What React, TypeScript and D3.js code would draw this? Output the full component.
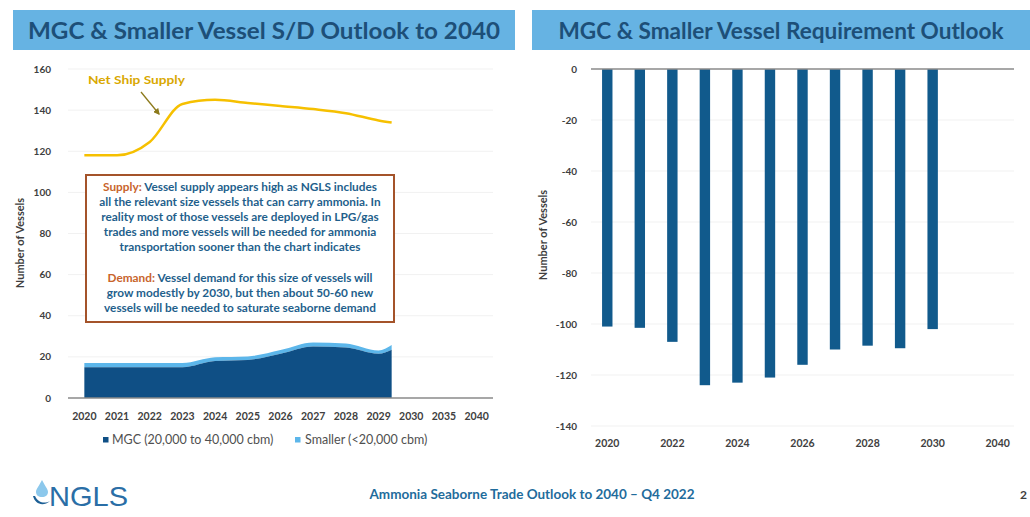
import * as d3 from "d3";

const xLabels = ["2020", "2021", "2022", "2023", "2024", "2025", "2026", "2027", "2028", "2029", "2030", "2035", "2040"];

// left chart series (last point sits a bit past 2029 in the source)
const areaYears = [2020, 2021, 2022, 2023, 2024, 2025, 2026, 2027, 2028, 2029, 2029.4];
const netSupply = [118, 118, 124.5, 143, 145, 143.5, 142, 140.5, 138.5, 135, 134];
const mgcDemand = [15, 15, 15, 15, 18, 18.5, 21.5, 25, 24.5, 21.5, 23.5];
const smallerDemand = [2, 2, 2, 2, 1.8, 1.7, 1.8, 2, 2, 1.6, 2.3];

// right chart series
const reqYears = ["2020", "2021", "2022", "2023", "2024", "2025", "2026", "2027", "2028", "2029", "2030"];
const requirement = [-101, -101.5, -107, -124, -123, -121, -116, -110, -108.5, -109.5, -102];

const leftTicks = [0, 20, 40, 60, 80, 100, 120, 140, 160];
const rightTicks = [0, -20, -40, -60, -80, -100, -120, -140];

const supplyNote = [
  "Vessel supply appears high as NGLS includes",
  "all the relevant size vessels that can carry ammonia. In",
  "reality most of those vessels are deployed in LPG/gas",
  "trades and more vessels will  be needed for ammonia",
  "transportation sooner than the chart indicates",
];
const demandNote = [
  "Vessel demand for this size of vessels will",
  "grow modestly by 2030,  but then about 50-60 new",
  "vessels will  be needed to saturate seaborne demand",
];

const FONT = "Lato, 'Open Sans', sans-serif";
const NAVY = "#1d4f78";
const DARK = "#0f4f85";
const LIGHT = "#5cb6ea";
const TICK = "#404040";

function Header({ x, w, title, len }: { x: number; w: number; title: string; len: number }) {
  return (
    <g>
      <rect x={x} y={10} width={w} height={40} fill="#66b3e3" />
      <text
        x={x + w / 2}
        y={38.5}
        textAnchor="middle"
        fontSize={22}
        fontWeight="bold"
        fill={NAVY}
        fontFamily={FONT}
        textLength={len}
        lengthAdjust="spacingAndGlyphs"
      >
        {title}
      </text>
    </g>
  );
}

function LeftChart() {
  const x = d3.scaleBand().domain(xLabels).range([68, 493]);
  const cx = (l: string) => (x(l) || 0) + x.bandwidth() / 2;
  const xy = d3.scaleLinear().domain([2020, 2029]).range([cx("2020"), cx("2029")]);
  const y = d3.scaleLinear().domain([0, 160]).range([398, 69]);

  const idx = areaYears.map((_, i) => i);
  const darkArea = d3
    .area<number>()
    .x((i) => xy(areaYears[i]))
    .y0(y(0))
    .y1((i) => y(mgcDemand[i]))
    .curve(d3.curveMonotoneX);
  const lightArea = d3
    .area<number>()
    .x((i) => xy(areaYears[i]))
    .y0((i) => y(mgcDemand[i]))
    .y1((i) => y(mgcDemand[i] + smallerDemand[i]))
    .curve(d3.curveMonotoneX);
  const supplyLine = d3
    .line<number>()
    .x((i) => xy(areaYears[i]))
    .y((i) => y(netSupply[i]))
    .curve(d3.curveMonotoneX);

  return (
    <g fontFamily={FONT}>
      {leftTicks.map((t) => (
        <g key={t}>
          {t > 0 && <line x1={68} x2={493} y1={y(t)} y2={y(t)} stroke="#f1f1f1" strokeWidth={1} />}
          <text x={51} y={y(t) + 3.5} textAnchor="end" fontSize={10} fontWeight="bold" fill={TICK}>
            {t}
          </text>
        </g>
      ))}
      <text transform="translate(24,243) rotate(-90)" textAnchor="middle" fontSize={11} fontWeight="bold" fill={TICK}>
        Number of Vessels
      </text>
      <path d={lightArea(idx) || undefined} fill={LIGHT} />
      <path d={darkArea(idx) || undefined} fill={DARK} />
      <line x1={68} x2={493} y1={y(0)} y2={y(0)} stroke="#8a8a8a" strokeWidth={1.5} />
      <path d={supplyLine(idx) || undefined} fill="none" stroke="#f6c000" strokeWidth={2.5} />
      {xLabels.map((l) => (
        <text key={l} x={cx(l)} y={420} textAnchor="middle" fontSize={10.5} fontWeight="bold" fill={TICK}>
          {l}
        </text>
      ))}

      <text x={88} y={84} fontSize={11.5} fontWeight="bold" fill="#d9a800" textLength={97} lengthAdjust="spacingAndGlyphs">
        Net Ship Supply
      </text>
      <defs>
        <marker id="arr" viewBox="0 0 10 10" refX={8} refY={5} markerWidth={5} markerHeight={5} orient="auto">
          <path d="M0,0 L10,5 L0,10 z" fill="#8c7a1c" />
        </marker>
      </defs>
      <line x1={141} y1={92} x2={159} y2={114} stroke="#8c7a1c" strokeWidth={1.3} markerEnd="url(#arr)" />

      <rect x={86} y={175} width={308} height={147} fill="#fff" stroke="#a4532a" strokeWidth={2} />
      <g fontSize={11.8} fontWeight="bold" fill="#1f5f8c" textAnchor="middle">
        {supplyNote.map((s, i) => (
          <text key={s} x={240} y={191 + i * 15}>
            {i === 0 && <tspan fill="#c8642c">Supply: </tspan>}
            {s}
          </text>
        ))}
        {demandNote.map((s, i) => (
          <text key={s} x={240} y={282 + i * 15}>
            {i === 0 && <tspan fill="#c8642c">Demand: </tspan>}
            {s}
          </text>
        ))}
      </g>

      <rect x={103} y={437} width={5.5} height={5.5} fill={DARK} />
      <text x={112} y={444} fontSize={12.5} fill="#505050">
        MGC (20,000 to 40,000 cbm)
      </text>
      <rect x={295} y={437} width={5.5} height={5.5} fill={LIGHT} />
      <text x={305} y={444} fontSize={12.5} fill="#505050">
        Smaller (&lt;20,000 cbm)
      </text>
    </g>
  );
}

function RightChart() {
  const x = d3.scaleBand().domain(xLabels).range([591, 1014]).paddingInner(0.68).paddingOuter(0.34);
  const y = d3.scaleLinear().domain([-140, 0]).range([426, 69]);

  return (
    <g fontFamily={FONT}>
      {rightTicks.map((t) => (
        <g key={t}>
          {t < 0 && <line x1={591} x2={1014} y1={y(t)} y2={y(t)} stroke="#f1f1f1" strokeWidth={1} />}
          <text x={577} y={y(t) + 3.5} textAnchor="end" fontSize={10} fontWeight="bold" fill={TICK}>
            {t}
          </text>
        </g>
      ))}
      <text transform="translate(547,235) rotate(-90)" textAnchor="middle" fontSize={11} fontWeight="bold" fill={TICK}>
        Number of Vessels
      </text>
      {reqYears.map((l, i) => (
        <rect key={l} x={x(l)} y={y(0)} width={x.bandwidth()} height={y(requirement[i]) - y(0)} fill="#115a8c" />
      ))}
      <line x1={591} x2={1014} y1={y(0)} y2={y(0)} stroke="#8a8a8a" strokeWidth={1.5} />
      {xLabels
        .filter((_, i) => i % 2 === 0)
        .map((l) => (
          <text key={l} x={(x(l) || 0) + x.bandwidth() / 2} y={447} textAnchor="middle" fontSize={10.5} fontWeight="bold" fill={TICK}>
            {l}
          </text>
        ))}
    </g>
  );
}

function Footer() {
  return (
    <g fontFamily={FONT}>
      <path d="M42,480 C39,486 36,489 36,492 C36,495 38.5,497 42,497 C45.5,497 48,495 48,492 C48,489 45,486 42,480 z" fill="#8cc8ec" />
      <path d="M33,496 C35,504 43,507 50,501 C45,504 38,503 35,496 z" fill="#1c5f95" />
      <text x={49} y={506} fontSize={28} fill="#2a6ea6" fontFamily="'Liberation Sans', Arial, sans-serif" textLength={79} lengthAdjust="spacingAndGlyphs">
        NGLS
      </text>
      <text x={532} y={499} textAnchor="middle" fontSize={12.5} fontWeight="bold" fill="#1f6c9c" textLength={325} lengthAdjust="spacingAndGlyphs">
        Ammonia Seaborne Trade Outlook to 2040 – Q4 2022
      </text>
      <text x={1020} y={499} fontSize={12} fontWeight="bold" fill="#404040">
        2
      </text>
    </g>
  );
}

export default function App() {
  return (
    <svg width={1030} height={517} style={{ position: "absolute", left: 0, top: 0, background: "#fff" }}>
      <rect width={1030} height={517} fill="#fff" />
      <Header x={13} w={502} title="MGC & Smaller Vessel S/D Outlook to 2040" len={472} />
      <Header x={532} w={498} title="MGC & Smaller Vessel Requirement Outlook" len={445} />
      <LeftChart />
      <RightChart />
      <Footer />
    </svg>
  );
}
